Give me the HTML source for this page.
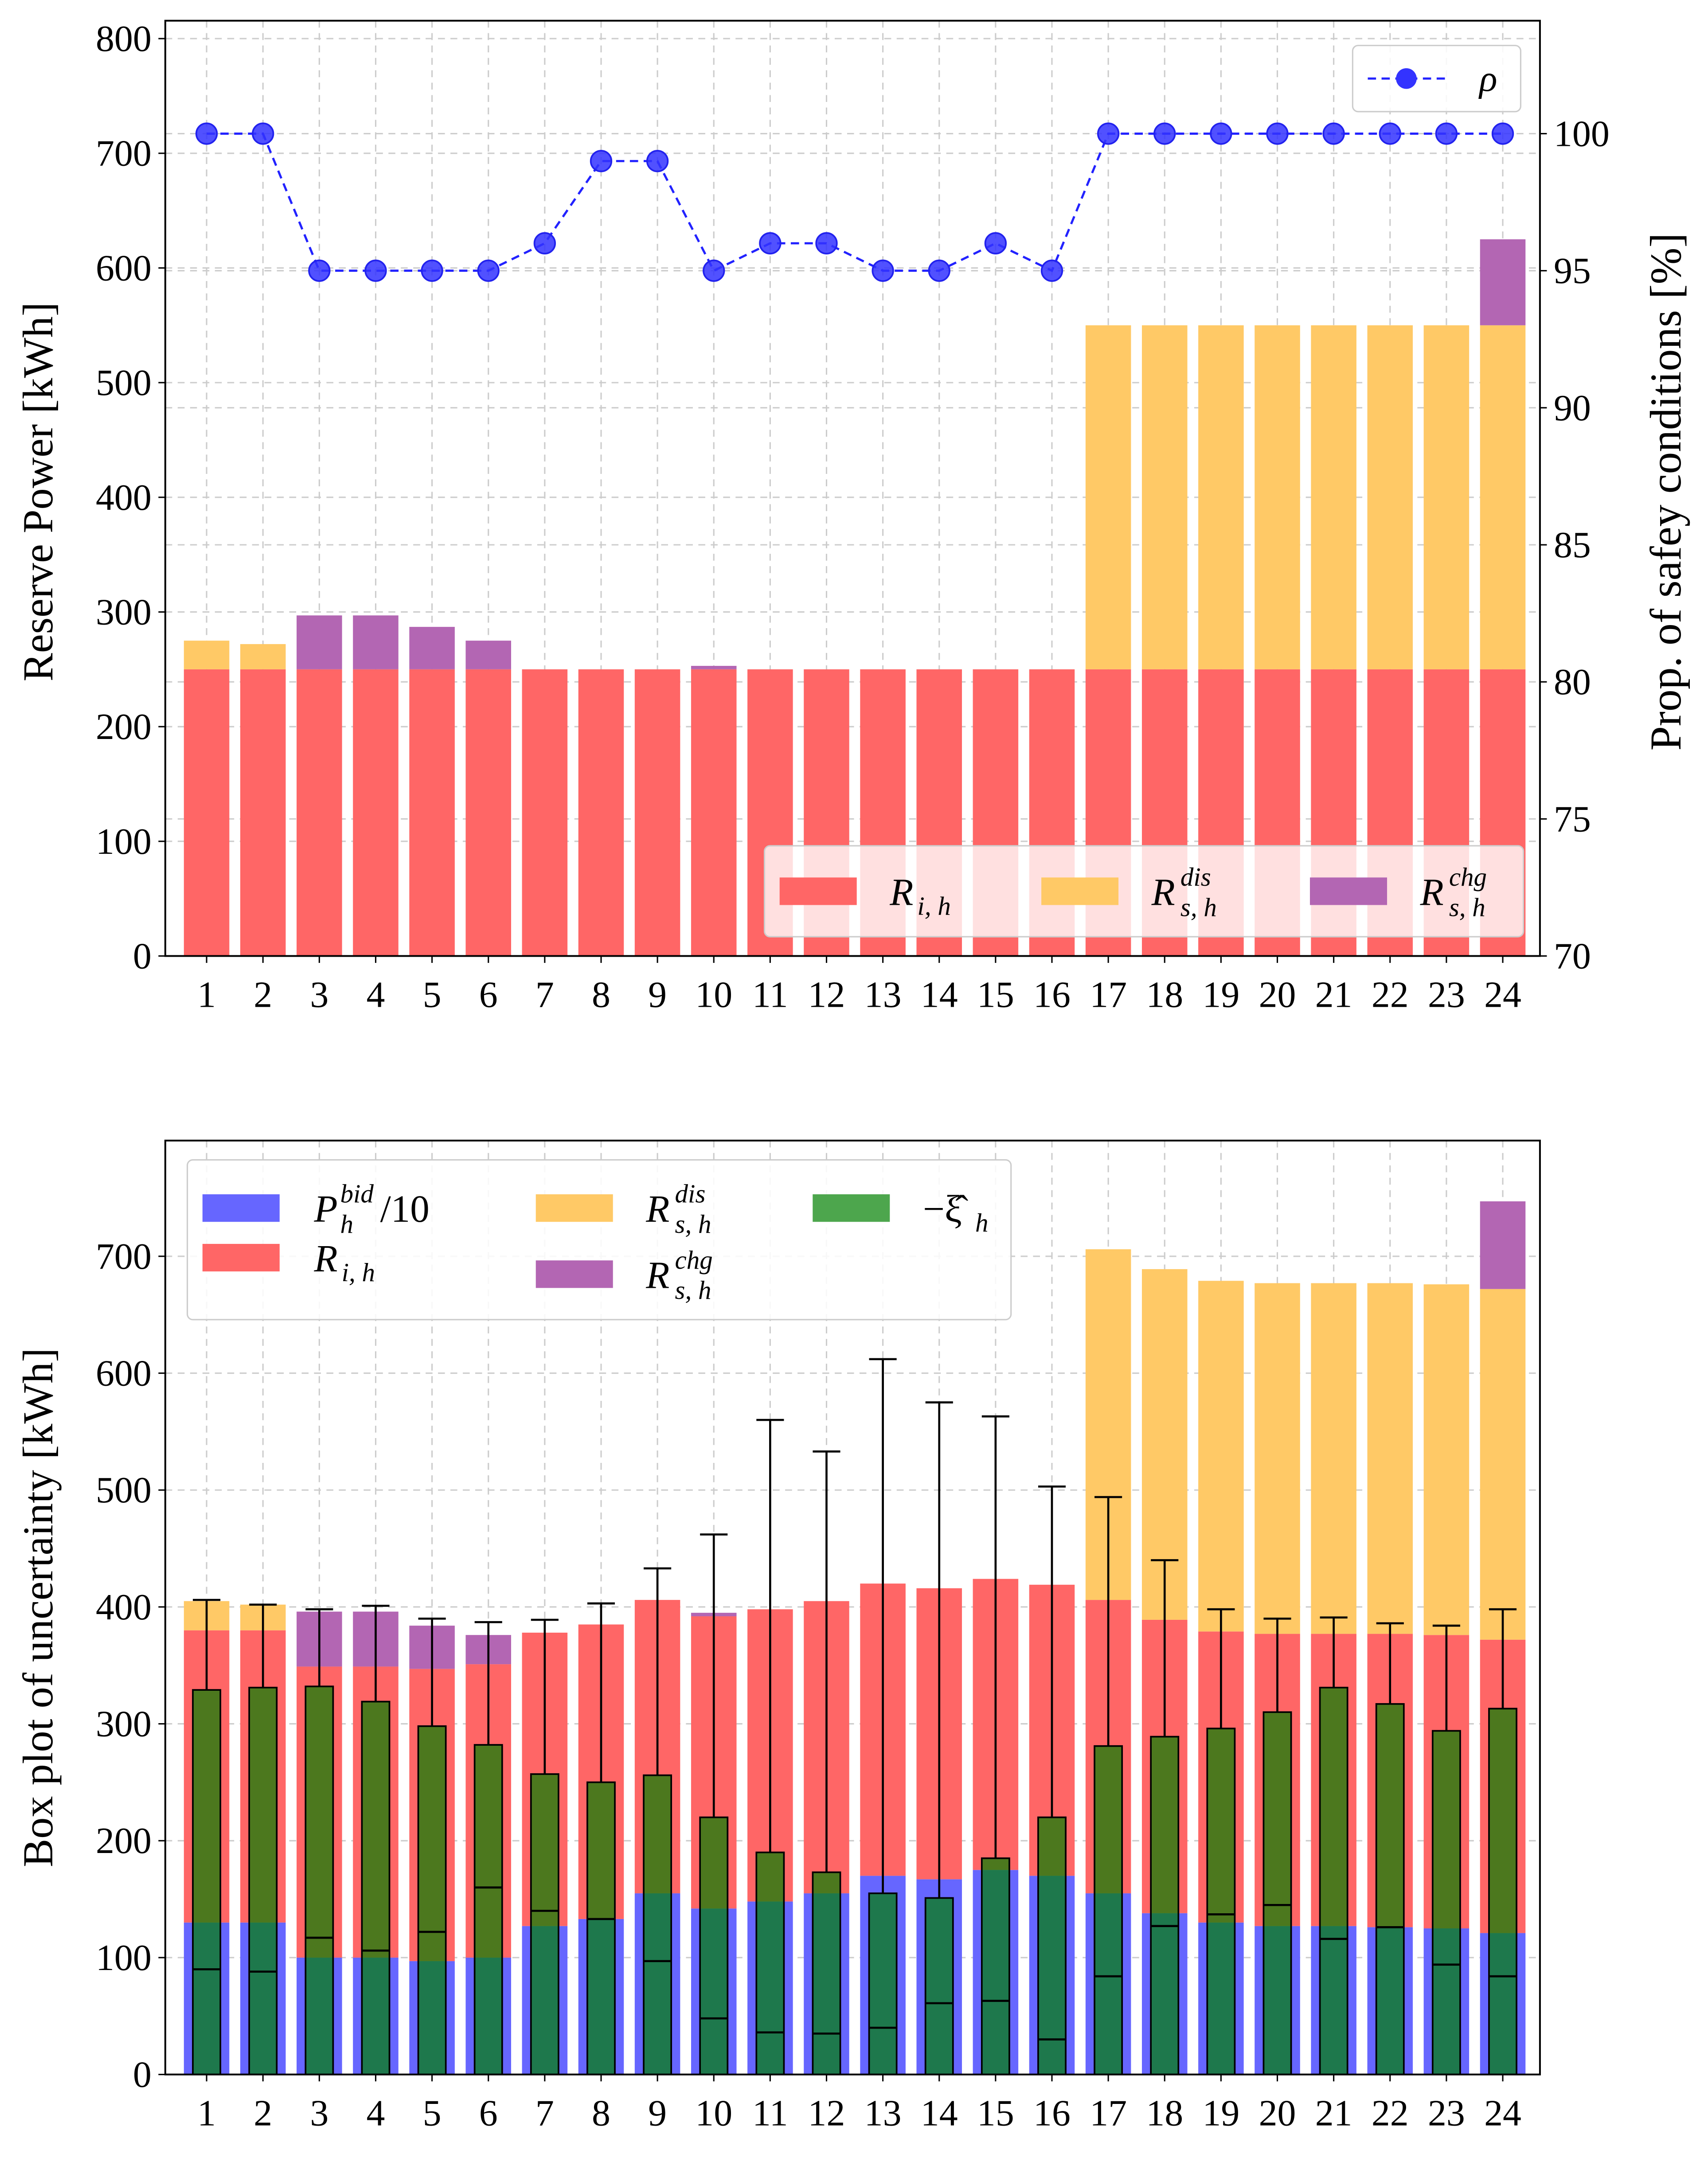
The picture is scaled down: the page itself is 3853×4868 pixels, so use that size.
<!DOCTYPE html>
<html><head><meta charset="utf-8"><style>
html,body{margin:0;padding:0;background:#fff}
svg{display:block}
text{font-family:"Liberation Serif",serif;fill:#000}
</style></head><body>
<svg id="root" width="3853" height="4868" viewBox="0 0 1240 1566.6" xmlns="http://www.w3.org/2000/svg">
<g id="top"></g>
<g id="bot"></g>
</svg>
<script>
const hours=[1,2,3,4,5,6,7,8,9,10,11,12,13,14,15,16,17,18,19,20,21,22,23,24];
// top chart
const topRi=[250,250,250,250,250,250,250,250,250,250,250,250,250,250,250,250,250,250,250,250,250,250,250,250];
const topDis=[25,22,0,0,0,0,0,0,0,0,0,0,0,0,0,0,300,300,300,300,300,300,300,300];
const topChg=[0,0,47,47,37,25,0,0,0,3,0,0,0,0,0,0,0,0,0,0,0,0,0,75];
const rho=[100,100,95,95,95,95,96,99,99,95,96,96,95,95,96,95,100,100,100,100,100,100,100,100];
const topLeftTicks=[0,100,200,300,400,500,600,700,800];
const topRightTicks=[70,75,80,85,90,95,100];
// bottom chart
const pbid=[130,130,100,100,97,100,127,133,155,142,148,155,170,167,175,170,155,138,130,127,127,126,125,121];
const botRi=[250,250,249,249,250,251,251,252,251,250,250,250,250,249,249,249,251,251,249,250,250,251,251,251];
const botDis=[25,22,0,0,0,0,0,0,0,0,0,0,0,0,0,0,300,300,300,300,300,300,300,300];
const botChg=[0,0,47,47,37,25,0,0,0,3,0,0,0,0,0,0,0,0,0,0,0,0,0,75];
const boxTop=[329,331,332,319,298,282,257,250,256,220,190,173,155,151,185,220,281,289,296,310,331,317,294,313];
const boxMed=[90,88,117,106,122,160,140,133,97,48,36,35,40,61,63,30,84,127,137,145,116,126,94,84];
const whiskTop=[406,402,398,401,390,387,389,403,433,462,560,533,612,575,563,503,494,440,398,390,391,386,384,398];
const botTicks=[0,100,200,300,400,500,600,700];

const NS="http://www.w3.org/2000/svg";
function el(p,tag,attrs,txt){const e=document.createElementNS(NS,tag);for(const k in attrs)e.setAttribute(k,attrs[k]);if(txt!==undefined)e.textContent=txt;p.appendChild(e);return e;}
const X0=120,X1=1118;
const xs=h=>150+(h-1)*(1091-150)/23;
const BW=33, BOXW=20;
const FS=27;

// ---------- TOP ----------
const T=document.getElementById('top');
const ty=v=>694-v*(666/800);
const tyR=v=>694-(v-70)*(597/30);
hours.forEach(h=>{const g=el(T,'line',{x1:xs(h),x2:xs(h),y1:15,y2:694,stroke:'#ccc','stroke-dasharray':'5,4','stroke-width':1});
});
topLeftTicks.forEach(v=>{const g=el(T,'line',{x1:X0,x2:X1,y1:ty(v),y2:ty(v),stroke:'#ccc','stroke-dasharray':'5,4'});
});
topRightTicks.forEach(v=>{const g=el(T,'line',{x1:X0,x2:X1,y1:tyR(v),y2:tyR(v),stroke:'#ccc','stroke-dasharray':'5,4'});
});
hours.forEach((h,i)=>{
 let b=el(T,'rect',{x:xs(h)-BW/2,y:ty(topRi[i]),width:BW,height:ty(0)-ty(topRi[i]),fill:'#ff6666'});
 
 let base=topRi[i];
 if(topDis[i]>0){b=el(T,'rect',{x:xs(h)-BW/2,y:ty(base+topDis[i]),width:BW,height:ty(base)-ty(base+topDis[i]),fill:'#ffc966'});
 base+=topDis[i];}
 if(topChg[i]>0){b=el(T,'rect',{x:xs(h)-BW/2,y:ty(base+topChg[i]),width:BW,height:ty(base)-ty(base+topChg[i]),fill:'#b366b3'});
 }
});
let pts=hours.map((h,i)=>xs(h)+','+tyR(rho[i])).join(' ');
let pl=el(T,'polyline',{points:pts,fill:'none',stroke:'#2222ff','stroke-width':1.6,'stroke-dasharray':'6,4'});

hours.forEach((h,i)=>{const c=el(T,'circle',{cx:xs(h),cy:tyR(rho[i]),r:7.5,fill:'#3333ff',stroke:'#2222ee','stroke-width':1.2,'fill-opacity':0.85});
});
el(T,'rect',{x:X0,y:15,width:X1-X0,height:679,fill:'none',stroke:'#000','stroke-width':1.3});
topLeftTicks.forEach(v=>{el(T,'line',{x1:X0-5,x2:X0,y1:ty(v),y2:ty(v),stroke:'#000'});
const t=el(T,'text',{x:X0-10,y:ty(v)+9,'text-anchor':'end','font-size':FS},v);});
topRightTicks.forEach(v=>{el(T,'line',{x1:X1,x2:X1+5,y1:tyR(v),y2:tyR(v),stroke:'#000'});
const t=el(T,'text',{x:X1+10,y:tyR(v)+9,'font-size':FS},v);});
hours.forEach(h=>{el(T,'line',{x1:xs(h),x2:xs(h),y1:694,y2:699,stroke:'#000'});
const t=el(T,'text',{x:xs(h),y:731,'text-anchor':'middle','font-size':FS},h);});
let lab=el(T,'text',{x:0,y:0,'text-anchor':'middle','font-size':31,transform:'translate(38,357) rotate(-90)'},'Reserve Power [kWh]');

lab=el(T,'text',{x:0,y:0,'text-anchor':'middle','font-size':32,transform:'translate(1220,357) rotate(-90)'},'Prop. of safey conditions [%]');

let lg=el(T,'g',{});
el(lg,'rect',{x:982,y:33,width:122,height:48,rx:4,fill:'#fff','fill-opacity':0.85,stroke:'#ccc'});
el(lg,'line',{x1:993,x2:1049,y1:57,y2:57,stroke:'#2222ff','stroke-width':1.6,'stroke-dasharray':'6,4'});
el(lg,'circle',{cx:1021,cy:57,r:7.5,fill:'#3333ff'});
el(lg,'text',{x:1074,y:66,'font-size':27,'font-style':'italic'},'ρ');
lg=el(T,'g',{});
el(lg,'rect',{x:555,y:614,width:551,height:66,rx:4,fill:'#fff','fill-opacity':0.8,stroke:'#ccc'});
el(lg,'rect',{x:566,y:637,width:56,height:20,fill:'#ff6666'});
el(lg,'text',{x:646,y:657,'font-size':28,'font-style':'italic'},'R');
el(lg,'text',{x:666,y:664,'font-size':19,'font-style':'italic'},'i, h');
el(lg,'rect',{x:756,y:637,width:56,height:20,fill:'#ffc966'});
el(lg,'text',{x:836,y:657,'font-size':28,'font-style':'italic'},'R');
el(lg,'text',{x:857,y:643,'font-size':19,'font-style':'italic'},'dis');
el(lg,'text',{x:857,y:665,'font-size':19,'font-style':'italic'},'s, h');
el(lg,'rect',{x:951,y:637,width:56,height:20,fill:'#b366b3'});
el(lg,'text',{x:1031,y:657,'font-size':28,'font-style':'italic'},'R');
el(lg,'text',{x:1052,y:643,'font-size':19,'font-style':'italic'},'chg');
el(lg,'text',{x:1052,y:665,'font-size':19,'font-style':'italic'},'s, h');

// ---------- BOTTOM ----------
const B=document.getElementById('bot');
const by=v=>1506-v*(594/700);
hours.forEach(h=>{const g=el(B,'line',{x1:xs(h),x2:xs(h),y1:828,y2:1506,stroke:'#ccc','stroke-dasharray':'5,4'});
});
botTicks.forEach(v=>{const g=el(B,'line',{x1:X0,x2:X1,y1:by(v),y2:by(v),stroke:'#ccc','stroke-dasharray':'5,4'});
});
hours.forEach((h,i)=>{
 const x=xs(h)-BW/2;
 let b=el(B,'rect',{x:x,y:by(pbid[i]),width:BW,height:by(0)-by(pbid[i]),fill:'#6666ff'});
 
 let base=pbid[i];
 b=el(B,'rect',{x:x,y:by(base+botRi[i]),width:BW,height:by(base)-by(base+botRi[i]),fill:'#ff6666'});
 base+=botRi[i];
 if(botDis[i]>0){b=el(B,'rect',{x:x,y:by(base+botDis[i]),width:BW,height:by(base)-by(base+botDis[i]),fill:'#ffc966'});
 base+=botDis[i];}
 if(botChg[i]>0){b=el(B,'rect',{x:x,y:by(base+botChg[i]),width:BW,height:by(base)-by(base+botChg[i]),fill:'#b366b3'});
 }
});
hours.forEach((h,i)=>{
 const x=xs(h)-BOXW/2;
 let b=el(B,'rect',{x:x,y:by(boxTop[i]),width:BOXW,height:by(0)-by(boxTop[i]),fill:'#008000','fill-opacity':0.7,stroke:'#000','stroke-width':1.2});
 
 let m=el(B,'line',{x1:x,x2:x+BOXW,y1:by(boxMed[i]),y2:by(boxMed[i]),stroke:'#000','stroke-width':1.5});
 
 let w=el(B,'line',{x1:xs(h),x2:xs(h),y1:by(boxTop[i]),y2:by(whiskTop[i]),stroke:'#000','stroke-width':1.5});
 
 let c=el(B,'line',{x1:xs(h)-BOXW/2,x2:xs(h)+BOXW/2,y1:by(whiskTop[i]),y2:by(whiskTop[i]),stroke:'#000','stroke-width':1.5});
 
});
el(B,'rect',{x:X0,y:828,width:X1-X0,height:678,fill:'none',stroke:'#000','stroke-width':1.3});
botTicks.forEach(v=>{el(B,'line',{x1:X0-5,x2:X0,y1:by(v),y2:by(v),stroke:'#000'});
const t=el(B,'text',{x:X0-10,y:by(v)+9,'text-anchor':'end','font-size':FS},v);});
hours.forEach(h=>{el(B,'line',{x1:xs(h),x2:xs(h),y1:1506,y2:1511,stroke:'#000'});
const t=el(B,'text',{x:xs(h),y:1543,'text-anchor':'middle','font-size':FS},h);});
lab=el(B,'text',{x:0,y:0,'text-anchor':'middle','font-size':31,transform:'translate(38,1167) rotate(-90)'},'Box plot of uncertainty [kWh]');

lg=el(B,'g',{});
el(lg,'rect',{x:136,y:842,width:598,height:116,rx:4,fill:'#fff','fill-opacity':0.85,stroke:'#ccc'});
el(lg,'rect',{x:147,y:867,width:56,height:20,fill:'#6666ff'});
el(lg,'text',{x:228,y:887,'font-size':28,'font-style':'italic'},'P');
el(lg,'text',{x:247,y:873,'font-size':19,'font-style':'italic'},'bid');
el(lg,'text',{x:247,y:895,'font-size':19,'font-style':'italic'},'h');
el(lg,'text',{x:276,y:887,'font-size':28},'/10');
el(lg,'rect',{x:147,y:903,width:56,height:20,fill:'#ff6666'});
el(lg,'text',{x:228,y:923,'font-size':28,'font-style':'italic'},'R');
el(lg,'text',{x:248,y:930,'font-size':19,'font-style':'italic'},'i, h');
el(lg,'rect',{x:389,y:867,width:56,height:20,fill:'#ffc966'});
el(lg,'text',{x:469,y:887,'font-size':28,'font-style':'italic'},'R');
el(lg,'text',{x:490,y:873,'font-size':19,'font-style':'italic'},'dis');
el(lg,'text',{x:490,y:895,'font-size':19,'font-style':'italic'},'s, h');
el(lg,'rect',{x:389,y:915,width:56,height:20,fill:'#b366b3'});
el(lg,'text',{x:469,y:935,'font-size':28,'font-style':'italic'},'R');
el(lg,'text',{x:490,y:921,'font-size':19,'font-style':'italic'},'chg');
el(lg,'text',{x:490,y:943,'font-size':19,'font-style':'italic'},'s, h');
el(lg,'rect',{x:590,y:867,width:56,height:20,fill:'#4da64d'});
el(lg,'text',{x:670,y:887,'font-size':28},'−ξ̂');
el(lg,'text',{x:708,y:894,'font-size':19,'font-style':'italic'},'h');
</script>
</body></html>
